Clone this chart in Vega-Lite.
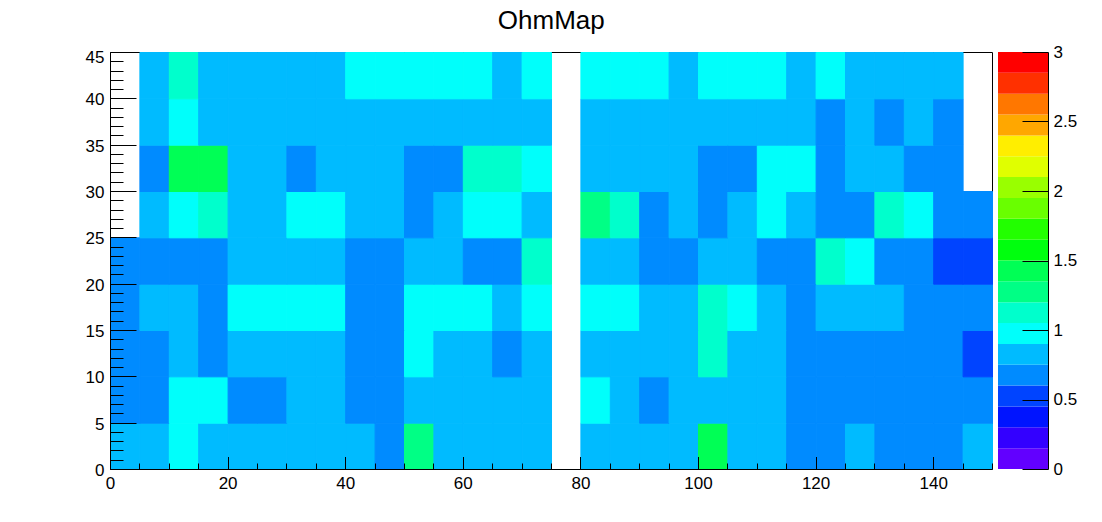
{
  "$schema": "https://vega.github.io/schema/vega-lite/v6.json",
  "background": "white",
  "padding": {"left": 0, "top": 8, "right": 0, "bottom": 0},
  "title": {"text": "OhmMap", "fontSize": 26, "font": "Liberation Sans", "fontWeight": "normal", "color": "black", "anchor": "middle", "offset": 9, "dx": 13},
  "datasets": {
    "cells": [
      {"x":0,"y":0,"v":0.8},{"x":5,"y":0,"v":0.8},{"x":10,"y":0,"v":1.0},{"x":15,"y":0,"v":0.8},{"x":20,"y":0,"v":0.8},{"x":25,"y":0,"v":0.8},{"x":30,"y":0,"v":0.8},{"x":35,"y":0,"v":0.8},{"x":40,"y":0,"v":0.8},{"x":45,"y":0,"v":0.7},{"x":50,"y":0,"v":1.3},{"x":55,"y":0,"v":0.8},{"x":60,"y":0,"v":0.8},{"x":65,"y":0,"v":0.8},{"x":70,"y":0,"v":0.8},{"x":80,"y":0,"v":0.8},{"x":85,"y":0,"v":0.8},{"x":90,"y":0,"v":0.8},{"x":95,"y":0,"v":0.8},{"x":100,"y":0,"v":1.4},{"x":105,"y":0,"v":0.8},{"x":110,"y":0,"v":0.8},{"x":115,"y":0,"v":0.7},{"x":120,"y":0,"v":0.7},{"x":125,"y":0,"v":0.8},{"x":130,"y":0,"v":0.7},{"x":135,"y":0,"v":0.7},{"x":140,"y":0,"v":0.7},{"x":145,"y":0,"v":0.8},
      {"x":0,"y":5,"v":0.7},{"x":5,"y":5,"v":0.7},{"x":10,"y":5,"v":1.0},{"x":15,"y":5,"v":1.0},{"x":20,"y":5,"v":0.7},{"x":25,"y":5,"v":0.7},{"x":30,"y":5,"v":0.8},{"x":35,"y":5,"v":0.8},{"x":40,"y":5,"v":0.7},{"x":45,"y":5,"v":0.7},{"x":50,"y":5,"v":0.8},{"x":55,"y":5,"v":0.8},{"x":60,"y":5,"v":0.8},{"x":65,"y":5,"v":0.8},{"x":70,"y":5,"v":0.8},{"x":80,"y":5,"v":1.0},{"x":85,"y":5,"v":0.8},{"x":90,"y":5,"v":0.7},{"x":95,"y":5,"v":0.8},{"x":100,"y":5,"v":0.8},{"x":105,"y":5,"v":0.8},{"x":110,"y":5,"v":0.8},{"x":115,"y":5,"v":0.7},{"x":120,"y":5,"v":0.7},{"x":125,"y":5,"v":0.7},{"x":130,"y":5,"v":0.7},{"x":135,"y":5,"v":0.7},{"x":140,"y":5,"v":0.7},{"x":145,"y":5,"v":0.7},
      {"x":0,"y":10,"v":0.7},{"x":5,"y":10,"v":0.7},{"x":10,"y":10,"v":0.8},{"x":15,"y":10,"v":0.7},{"x":20,"y":10,"v":0.8},{"x":25,"y":10,"v":0.8},{"x":30,"y":10,"v":0.8},{"x":35,"y":10,"v":0.8},{"x":40,"y":10,"v":0.7},{"x":45,"y":10,"v":0.7},{"x":50,"y":10,"v":1.0},{"x":55,"y":10,"v":0.8},{"x":60,"y":10,"v":0.8},{"x":65,"y":10,"v":0.7},{"x":70,"y":10,"v":0.8},{"x":80,"y":10,"v":0.8},{"x":85,"y":10,"v":0.8},{"x":90,"y":10,"v":0.8},{"x":95,"y":10,"v":0.8},{"x":100,"y":10,"v":1.1},{"x":105,"y":10,"v":0.8},{"x":110,"y":10,"v":0.8},{"x":115,"y":10,"v":0.7},{"x":120,"y":10,"v":0.7},{"x":125,"y":10,"v":0.7},{"x":130,"y":10,"v":0.7},{"x":135,"y":10,"v":0.7},{"x":140,"y":10,"v":0.7},{"x":145,"y":10,"v":0.55},
      {"x":0,"y":15,"v":0.7},{"x":5,"y":15,"v":0.8},{"x":10,"y":15,"v":0.8},{"x":15,"y":15,"v":0.7},{"x":20,"y":15,"v":1.0},{"x":25,"y":15,"v":1.0},{"x":30,"y":15,"v":1.0},{"x":35,"y":15,"v":1.0},{"x":40,"y":15,"v":0.7},{"x":45,"y":15,"v":0.7},{"x":50,"y":15,"v":1.0},{"x":55,"y":15,"v":1.0},{"x":60,"y":15,"v":1.0},{"x":65,"y":15,"v":0.8},{"x":70,"y":15,"v":1.0},{"x":80,"y":15,"v":1.0},{"x":85,"y":15,"v":1.0},{"x":90,"y":15,"v":0.8},{"x":95,"y":15,"v":0.8},{"x":100,"y":15,"v":1.1},{"x":105,"y":15,"v":1.0},{"x":110,"y":15,"v":0.8},{"x":115,"y":15,"v":0.7},{"x":120,"y":15,"v":0.8},{"x":125,"y":15,"v":0.8},{"x":130,"y":15,"v":0.8},{"x":135,"y":15,"v":0.7},{"x":140,"y":15,"v":0.7},{"x":145,"y":15,"v":0.7},
      {"x":0,"y":20,"v":0.7},{"x":5,"y":20,"v":0.7},{"x":10,"y":20,"v":0.7},{"x":15,"y":20,"v":0.7},{"x":20,"y":20,"v":0.8},{"x":25,"y":20,"v":0.8},{"x":30,"y":20,"v":0.8},{"x":35,"y":20,"v":0.8},{"x":40,"y":20,"v":0.7},{"x":45,"y":20,"v":0.7},{"x":50,"y":20,"v":0.8},{"x":55,"y":20,"v":0.8},{"x":60,"y":20,"v":0.7},{"x":65,"y":20,"v":0.7},{"x":70,"y":20,"v":1.1},{"x":80,"y":20,"v":0.8},{"x":85,"y":20,"v":0.8},{"x":90,"y":20,"v":0.7},{"x":95,"y":20,"v":0.7},{"x":100,"y":20,"v":0.8},{"x":105,"y":20,"v":0.8},{"x":110,"y":20,"v":0.7},{"x":115,"y":20,"v":0.7},{"x":120,"y":20,"v":1.1},{"x":125,"y":20,"v":1.0},{"x":130,"y":20,"v":0.7},{"x":135,"y":20,"v":0.7},{"x":140,"y":20,"v":0.55},{"x":145,"y":20,"v":0.55},
      {"x":5,"y":25,"v":0.8},{"x":10,"y":25,"v":1.0},{"x":15,"y":25,"v":1.1},{"x":20,"y":25,"v":0.8},{"x":25,"y":25,"v":0.8},{"x":30,"y":25,"v":1.0},{"x":35,"y":25,"v":1.0},{"x":40,"y":25,"v":0.8},{"x":45,"y":25,"v":0.8},{"x":50,"y":25,"v":0.7},{"x":55,"y":25,"v":0.8},{"x":60,"y":25,"v":1.0},{"x":65,"y":25,"v":1.0},{"x":70,"y":25,"v":0.8},{"x":80,"y":25,"v":1.3},{"x":85,"y":25,"v":1.1},{"x":90,"y":25,"v":0.7},{"x":95,"y":25,"v":0.8},{"x":100,"y":25,"v":0.7},{"x":105,"y":25,"v":0.8},{"x":110,"y":25,"v":1.0},{"x":115,"y":25,"v":0.8},{"x":120,"y":25,"v":0.7},{"x":125,"y":25,"v":0.7},{"x":130,"y":25,"v":1.1},{"x":135,"y":25,"v":1.0},{"x":140,"y":25,"v":0.7},{"x":145,"y":25,"v":0.7},
      {"x":5,"y":30,"v":0.7},{"x":10,"y":30,"v":1.4},{"x":15,"y":30,"v":1.4},{"x":20,"y":30,"v":0.8},{"x":25,"y":30,"v":0.8},{"x":30,"y":30,"v":0.7},{"x":35,"y":30,"v":0.8},{"x":40,"y":30,"v":0.8},{"x":45,"y":30,"v":0.8},{"x":50,"y":30,"v":0.7},{"x":55,"y":30,"v":0.7},{"x":60,"y":30,"v":1.1},{"x":65,"y":30,"v":1.1},{"x":70,"y":30,"v":1.0},{"x":80,"y":30,"v":0.8},{"x":85,"y":30,"v":0.8},{"x":90,"y":30,"v":0.8},{"x":95,"y":30,"v":0.8},{"x":100,"y":30,"v":0.7},{"x":105,"y":30,"v":0.7},{"x":110,"y":30,"v":1.0},{"x":115,"y":30,"v":1.0},{"x":120,"y":30,"v":0.7},{"x":125,"y":30,"v":0.8},{"x":130,"y":30,"v":0.8},{"x":135,"y":30,"v":0.7},{"x":140,"y":30,"v":0.7},
      {"x":5,"y":35,"v":0.8},{"x":10,"y":35,"v":1.0},{"x":15,"y":35,"v":0.8},{"x":20,"y":35,"v":0.8},{"x":25,"y":35,"v":0.8},{"x":30,"y":35,"v":0.8},{"x":35,"y":35,"v":0.8},{"x":40,"y":35,"v":0.8},{"x":45,"y":35,"v":0.8},{"x":50,"y":35,"v":0.8},{"x":55,"y":35,"v":0.8},{"x":60,"y":35,"v":0.8},{"x":65,"y":35,"v":0.8},{"x":70,"y":35,"v":0.8},{"x":80,"y":35,"v":0.8},{"x":85,"y":35,"v":0.8},{"x":90,"y":35,"v":0.8},{"x":95,"y":35,"v":0.8},{"x":100,"y":35,"v":0.8},{"x":105,"y":35,"v":0.8},{"x":110,"y":35,"v":0.8},{"x":115,"y":35,"v":0.8},{"x":120,"y":35,"v":0.7},{"x":125,"y":35,"v":0.8},{"x":130,"y":35,"v":0.7},{"x":135,"y":35,"v":0.8},{"x":140,"y":35,"v":0.7},
      {"x":5,"y":40,"v":0.8},{"x":10,"y":40,"v":1.1},{"x":15,"y":40,"v":0.8},{"x":20,"y":40,"v":0.8},{"x":25,"y":40,"v":0.8},{"x":30,"y":40,"v":0.8},{"x":35,"y":40,"v":0.8},{"x":40,"y":40,"v":1.0},{"x":45,"y":40,"v":1.0},{"x":50,"y":40,"v":1.0},{"x":55,"y":40,"v":1.0},{"x":60,"y":40,"v":1.0},{"x":65,"y":40,"v":0.8},{"x":70,"y":40,"v":1.0},{"x":80,"y":40,"v":1.0},{"x":85,"y":40,"v":1.0},{"x":90,"y":40,"v":1.0},{"x":95,"y":40,"v":0.8},{"x":100,"y":40,"v":1.0},{"x":105,"y":40,"v":1.0},{"x":110,"y":40,"v":1.0},{"x":115,"y":40,"v":0.8},{"x":120,"y":40,"v":1.0},{"x":125,"y":40,"v":0.8},{"x":130,"y":40,"v":0.8},{"x":135,"y":40,"v":0.8},{"x":140,"y":40,"v":0.8}
    ],
    "palette": [
      {"lo":0,"hi":0.15},{"lo":0.15,"hi":0.3},{"lo":0.3,"hi":0.45},{"lo":0.45,"hi":0.6},{"lo":0.6,"hi":0.75},
      {"lo":0.75,"hi":0.9},{"lo":0.9,"hi":1.05},{"lo":1.05,"hi":1.2},{"lo":1.2,"hi":1.35},{"lo":1.35,"hi":1.5},
      {"lo":1.5,"hi":1.65},{"lo":1.65,"hi":1.8},{"lo":1.8,"hi":1.95},{"lo":1.95,"hi":2.1},{"lo":2.1,"hi":2.25},
      {"lo":2.25,"hi":2.4},{"lo":2.4,"hi":2.55},{"lo":2.55,"hi":2.7},{"lo":2.7,"hi":2.85},{"lo":2.85,"hi":3}
    ]
  },
  "spacing": 5,
  "resolve": {"scale": {"color": "independent", "stroke": "independent"}},
  "hconcat": [
    {
      "width": 882,
      "height": 417,
      "data": {"name": "cells"},
      "resolve": {"axis": {"x": "independent", "y": "independent"}},
      "layer": [
        {
          "mark": {"type": "rect", "binSpacing": 0, "strokeWidth": 1},
          "encoding": {
            "x": {"field": "x", "type": "quantitative", "bin": {"step": 5, "extent": [0, 150]},
                  "scale": {"domain": [0, 150], "nice": false, "zero": false},
                  "axis": {"orient": "bottom", "title": null, "values": [0, 20, 40, 60, 80, 100, 120, 140], "format": "d",
                           "tickSize": -12.5, "labelPadding": 18.5, "domain": true, "zindex": 1}},
            "y": {"field": "y", "type": "quantitative", "bin": {"step": 5, "extent": [0, 45]},
                  "scale": {"domain": [0, 45], "nice": false, "zero": false},
                  "axis": {"orient": "left", "title": null, "values": [0, 5, 10, 15, 20, 25, 30, 35, 40, 45], "format": "d",
                           "tickSize": -26, "labelPadding": 32, "domain": true, "zindex": 1, "minExtent": 110, "maxExtent": 110,
                           "labelBaseline": "middle",
                           "labelOffset": {"condition": {"test": "datum.value == 45", "value": 5}, "value": 1.5}}},
            "color": {"field": "v", "type": "quantitative", "legend": null,
                      "scale": {"type": "threshold",
                                "domain": [0.15, 0.3, 0.45, 0.6, 0.75, 0.9, 1.05, 1.2, 1.35, 1.5, 1.65, 1.8, 1.95, 2.1, 2.25, 2.4, 2.55, 2.7, 2.85],
                                "range": ["#6200ff", "#3300ff", "#0014ff", "#0044ff", "#008bff", "#00bbff", "#00fffb", "#00ffcc", "#00ff85", "#00ff55", "#00ff0e", "#22ff00", "#69ff00", "#99ff00", "#e0ff00", "#ffee00", "#ffa700", "#ff7700", "#ff3000", "#ff0000"]}},
            "stroke": {"field": "v", "type": "quantitative", "legend": null,
                      "scale": {"type": "threshold",
                                "domain": [0.15, 0.3, 0.45, 0.6, 0.75, 0.9, 1.05, 1.2, 1.35, 1.5, 1.65, 1.8, 1.95, 2.1, 2.25, 2.4, 2.55, 2.7, 2.85],
                                "range": ["#6200ff", "#3300ff", "#0014ff", "#0044ff", "#008bff", "#00bbff", "#00fffb", "#00ffcc", "#00ff85", "#00ff55", "#00ff0e", "#22ff00", "#69ff00", "#99ff00", "#e0ff00", "#ffee00", "#ffa700", "#ff7700", "#ff3000", "#ff0000"]}}
          }
        },
        {
          "mark": {"type": "rect", "binSpacing": 0, "opacity": 0},
          "encoding": {
            "x": {"field": "x", "type": "quantitative", "bin": {"step": 5, "extent": [0, 150]},
                  "axis": {"orient": "bottom", "title": null, "values": [0,5,10,15,20,25,30,35,40,45,50,55,60,65,70,75,80,85,90,95,100,105,110,115,120,125,130,135,140,145,150],
                           "tickSize": -6, "labels": false, "domain": false, "zindex": 1}},
            "y": {"field": "y", "type": "quantitative", "bin": {"step": 5, "extent": [0, 45]},
                  "axis": {"orient": "left", "title": null, "values": [0,1,2,3,4,5,6,7,8,9,10,11,12,13,14,15,16,17,18,19,20,21,22,23,24,25,26,27,28,29,30,31,32,33,34,35,36,37,38,39,40,41,42,43,44,45],
                           "tickSize": -13, "labels": false, "domain": false, "zindex": 1}}
          }
        },
        {
          "mark": {"type": "rect", "binSpacing": 0, "opacity": 0},
          "encoding": {
            "x": {"field": "x", "type": "quantitative", "bin": {"step": 5, "extent": [0, 150]},
                  "axis": {"orient": "top", "title": null, "ticks": false, "labels": false, "domain": true, "zindex": 0}},
            "y": {"field": "y", "type": "quantitative", "bin": {"step": 5, "extent": [0, 45]},
                  "axis": {"orient": "right", "title": null, "ticks": false, "labels": false, "domain": true, "zindex": 0}}
          }
        }
      ]
    },
    {
      "width": 50,
      "height": 417,
      "data": {"name": "palette"},
      "mark": {"type": "rect", "strokeWidth": 1},
      "encoding": {
        "y": {"field": "lo", "type": "quantitative", "scale": {"domain": [0, 3], "nice": false, "zero": false},
              "axis": {"orient": "right", "title": null, "values": [0, 0.5, 1, 1.5, 2, 2.5, 3], "format": "~g",
                       "tickSize": -26, "labelPadding": 31, "domain": true, "zindex": 1}},
        "y2": {"field": "hi"},
        "color": {"field": "lo", "type": "quantitative", "legend": null,
                  "scale": {"type": "threshold",
                            "domain": [0.15, 0.3, 0.45, 0.6, 0.75, 0.9, 1.05, 1.2, 1.35, 1.5, 1.65, 1.8, 1.95, 2.1, 2.25, 2.4, 2.55, 2.7, 2.85],
                            "range": ["#6200ff", "#3300ff", "#0014ff", "#0044ff", "#008bff", "#00bbff", "#00fffb", "#00ffcc", "#00ff85", "#00ff55", "#00ff0e", "#22ff00", "#69ff00", "#99ff00", "#e0ff00", "#ffee00", "#ffa700", "#ff7700", "#ff3000", "#ff0000"]}}
      }
    }
  ],
  "config": {
    "view": {"stroke": null},
    "axis": {"grid": false, "labelFont": "Liberation Sans", "labelFontSize": 17, "labelColor": "#000000",
             "tickColor": "#000000", "domainColor": "#000000", "tickWidth": 1, "domainWidth": 1,
             "labelFlush": false, "labelOverlap": false, "titleFont": "Liberation Sans"}
  }
}
